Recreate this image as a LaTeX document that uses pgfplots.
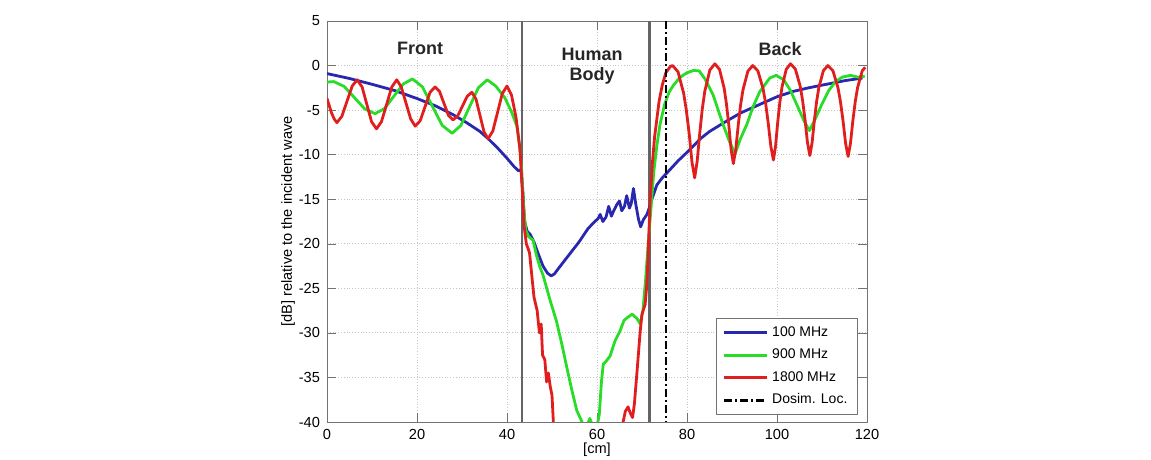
\documentclass[border=0pt]{standalone}
\usepackage{fontspec}
\setmainfont{Liberation Sans}
\usepackage{pgfplots}
\pgfplotsset{compat=1.18}
\definecolor{cblue}{RGB}{40,40,175}
\definecolor{cgreen}{RGB}{40,220,40}
\definecolor{cred}{RGB}{225,30,30}
\definecolor{cgray}{RGB}{100,100,100}
\begin{document}
\begin{tikzpicture}
\path[use as bounding box] (0,0) rectangle (575.5pt,230pt);
\begin{axis}[
  at={(163.5pt,19pt)}, anchor=south west,
  scale only axis, width=270pt, height=200.5pt,
  xmin=0, xmax=120, ymin=-40, ymax=5,
  xtick={0,20,...,120}, ytick={-40,-35,...,5},
  grid=major, major grid style={densely dotted, gray!45},
  axis line style={black!55},
  tick style={black!55},
  tick label style={font=\fontsize{7.3}{8}\selectfont},
  /pgf/number format/assume math mode=true,
  xlabel={[cm]}, ylabel={[dB] relative to the incident wave},
  label style={font=\fontsize{7.3}{8}\selectfont},
  xlabel style={at={(axis description cs:0.5,-0.07)}, anchor=center},
  ylabel style={at={(axis description cs:-0.072,0.5)}, anchor=center},
  legend style={at={(axis description cs:0.983,0.017)}, anchor=south east,
    font=\fontsize{7}{8}\selectfont, draw=black!55, legend cell align=left, row sep=0.8pt},
  legend image code/.code={\draw[#1] (0cm,0cm) -- (0.75cm,0cm);},
  line join=round,
]
\addplot[cgray, line width=1.3pt, forget plot] coordinates {(43.3,5) (43.3,-40)};
\addplot[cgray, line width=1.3pt, forget plot] coordinates {(71.6,5) (71.6,-40)};

\addplot[cblue, line width=1.4pt] coordinates {
(0,-0.9) (5,-1.45) (10,-2.1) (15,-2.8) (20,-3.7) (24,-4.5) (28,-5.5) (31,-6.4) (34,-7.4) (36,-8.3) (38,-9.3) (40,-10.4) (41.5,-11.3) (42.5,-11.8) (43.1,-11.7) (43.5,-14) (43.9,-17.5) (44.5,-18.6) (45.1,-18.9) (46,-19.8) (47,-21.2) (48,-22.5) (49,-23.3) (49.8,-23.6) (50.5,-23.4) (52,-22.4) (54,-21.1) (56,-19.8) (58,-18.3) (59.5,-17.5) (60.2,-17.2) (60.7,-16.7) (61.3,-17.5) (62,-17.0) (62.6,-15.8) (63.2,-16.9) (63.8,-16.2) (64.4,-15.6) (65,-15.2) (65.5,-16.3) (66.1,-15.8) (66.6,-14.6) (67.2,-16.0) (67.6,-15.5) (68.1,-13.8) (68.6,-15.5) (69.2,-17.2) (69.7,-18.1) (70.3,-17.3) (71.1,-16.7) (71.6,-16.0) (72.2,-15.0) (73.3,-13.4) (74.5,-12.6) (76,-11.8) (78,-10.7) (80.7,-9.4) (83,-8.2) (85,-7.4) (88.9,-6.2) (92,-5.3) (96,-4.4) (100,-3.5) (103.6,-2.9) (107,-2.5) (111,-2.1) (115,-1.7) (119,-1.4)
};
\addlegendentry{100 MHz}

\addplot[cgreen, line width=1.4pt] coordinates {
(0,-1.85) (1.5,-1.8) (3.8,-2.33) (6.1,-3.6) (8.4,-4.87) (10.7,-5.4) (12.78,-4.83) (14.85,-3.45) (16.93,-2.07) (19,-1.5) (21.2,-2.39) (23.4,-4.55) (25.6,-6.71) (27.8,-7.6) (29.75,-6.72) (31.7,-4.6) (33.65,-2.48) (35.6,-1.6) (37.5,-2.3) (39.5,-3.6) (41,-5.2) (42.2,-6.8) (42.8,-9) (43.3,-12) (43.7,-16) (44.2,-18.5) (44.8,-19.2) (45.8,-19.6) (46.5,-21.2) (47.3,-22.6) (48,-23.5) (49.5,-26.2) (51,-28.7) (52.2,-31.3) (53.3,-33.9) (54.4,-36.4) (55.5,-38.7) (56.5,-39.8) (57,-40.5) (57.8,-40.4) (58.4,-39.6) (59,-40.4) (60,-40.5) (60.5,-39.2) (61,-35.4) (61.4,-33.5) (62,-33.2) (62.9,-32.6) (64,-30.9) (65.1,-29.8) (66,-28.6) (66.7,-28.3) (67.8,-27.9) (68.9,-28.4) (69.6,-29) (70.2,-27.5) (70.8,-24) (71.3,-20.5) (72,-16) (72.6,-12) (73.3,-9) (74,-6.6) (75,-4.4) (76,-3.0) (77,-2.2) (78.5,-1.3) (80,-0.8) (81.5,-0.55) (82.7,-0.6) (84,-1.5) (85.8,-3.3) (88,-6.6) (89.5,-8.6) (90.7,-9.9) (91.8,-8.3) (93.3,-6.6) (94.7,-4.6) (96.2,-2.9) (98.4,-1.4) (99.8,-1.1) (101.5,-1.6) (103,-2.8) (104.5,-4.5) (106,-6.2) (107.2,-7.3) (108.5,-6.0) (110,-4.3) (111.5,-2.8) (113,-1.8) (114.5,-1.3) (116.3,-1.1) (118,-1.3) (119.5,-1.2)
};
\addlegendentry{900 MHz}

\addplot[cred, line width=1.4pt] coordinates {
(0,-3.7) (1,-5.3) (1.6,-6.0) (2.2,-6.4) (3.3,-5.7) (4.45,-4.0) (5.6,-2.3) (6.7,-1.6) (7.8,-2.4) (8.85,-4.35) (9.9,-6.3) (11,-7.1) (12.1,-6.3) (13.25,-4.35) (14.4,-2.4) (15.5,-1.6) (16.5,-2.4) (17.55,-4.2) (18.6,-6.0) (19.6,-6.8) (20.7,-6.2) (21.8,-4.6) (22.9,-3.0) (24,-2.4) (25,-2.9) (26,-4.25) (27,-5.6) (28,-6.1) (29.05,-5.65) (30.1,-4.55) (31.15,-3.45) (32.2,-3.0) (33.1,-3.75) (34,-5.6) (34.9,-7.45) (35.8,-8.2) (36.85,-7.35) (37.9,-5.25) (38.95,-3.15) (40,-2.3) (41,-3.3) (42,-5.8) (42.9,-9.5) (43.4,-14) (43.8,-18) (44.3,-20) (45,-21) (45.5,-23.5) (46,-26) (46.7,-27.5) (47.2,-30) (47.6,-29) (47.9,-32.5) (48.4,-33) (48.8,-35.5) (49.2,-34.5) (49.6,-36) (50,-37) (50.3,-40) (50.6,-46) (65.5,-46) (65.8,-40) (66.3,-38.8) (66.9,-38.3) (67.4,-39) (67.9,-39.5) (68.3,-38) (68.9,-34.3) (69.6,-29.8) (70,-27.9) (70.7,-26.8) (71,-25) (71.3,-22) (71.8,-15.2) (72.3,-11) (72.8,-8) (73.3,-6) (73.8,-4) (74.5,-2.2) (75.3,-0.8) (76.3,-0.1) (76.8,0) (78.0,-0.7) (79.25,-3.1) (79.85,-5.0) (80.5,-7.7) (81.1,-10.8) (81.7,-12.6) (82.26,-10.74) (82.83,-7.6) (83.39,-4.9) (83.95,-2.9) (85.08,-0.5) (86.2,0.2) (87.23,-0.44) (88.25,-2.53) (88.76,-4.28) (89.28,-6.63) (89.79,-9.38) (90.3,-11.0) (90.84,-9.4) (91.38,-6.7) (91.91,-4.4) (92.45,-2.7) (93.53,-0.63) (94.6,0) (95.75,-0.6) (96.9,-2.59) (97.48,-4.24) (98.05,-6.47) (98.63,-9.06) (99.2,-10.6) (99.68,-9.03) (100.15,-6.39) (100.63,-4.12) (101.1,-2.44) (102.05,-0.42) (103,0.2) (104.08,-0.39) (105.15,-2.31) (105.69,-3.92) (106.23,-6.08) (106.76,-8.61) (107.3,-10.1) (107.8,-8.64) (108.3,-6.16) (108.8,-4.04) (109.3,-2.46) (110.3,-0.58) (111.3,0) (112.43,-0.58) (113.55,-2.49) (114.11,-4.08) (114.68,-6.22) (115.24,-8.72) (115.8,-10.2) (116.33,-8.72) (116.85,-6.22) (117.38,-4.08) (117.9,-2.49) (118.95,-0.58) (119.6,-0.2)
};
\addlegendentry{1800 MHz}

\addplot[black, line width=1.3pt, dash pattern=on 4pt off 1.5pt on 1pt off 1.5pt] coordinates {(75.3,5) (75.3,-40)};
\addlegendentry{Dosim. Loc.}

\node[font=\bfseries\fontsize{9}{10}\selectfont, text=black!85] at (axis cs:20.7,1.9) {Front};
\node[font=\bfseries\fontsize{9}{10}\selectfont, text=black!85, align=center] at (axis cs:58.9,-0.1) {Human\\Body};
\node[font=\bfseries\fontsize{9}{10}\selectfont, text=black!85] at (axis cs:100.7,1.9) {Back};
\end{axis}
\end{tikzpicture}
\end{document}
